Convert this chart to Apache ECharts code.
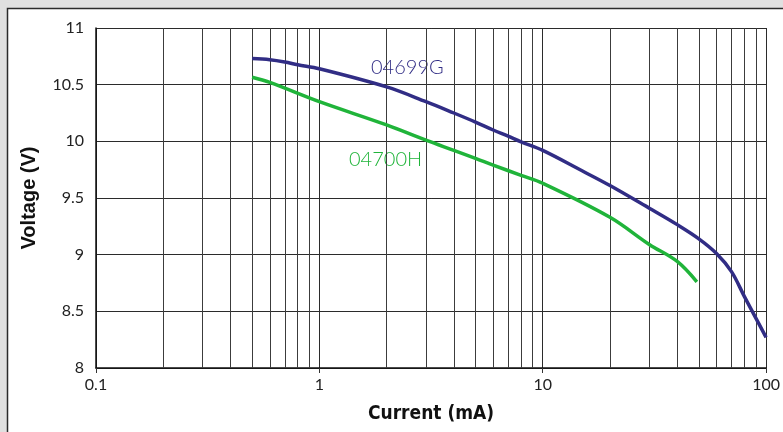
<!DOCTYPE html>
<html>
<head>
<meta charset="utf-8">
<script src="https://cdn.jsdelivr.net/npm/echarts@6/dist/echarts.min.js"></script>
<style>
  html, body { margin: 0; padding: 0; background: #e0e0e0; }
  #chart { width: 783px; height: 432px; }
</style>
</head>
<body>
<div id="chart"></div>
<script>
// ---- data ----
const current04699G = [0.5, 0.6, 0.7, 0.8, 1, 2, 3, 4, 5, 6, 7, 8, 10, 15, 20, 30, 40, 50, 60, 70, 80, 90, 100];
const voltage04699G = [10.73, 10.72, 10.70, 10.675, 10.64, 10.48, 10.35, 10.25, 10.17, 10.10, 10.045, 9.995, 9.92, 9.74, 9.61, 9.41, 9.265, 9.14, 9.01, 8.85, 8.63, 8.44, 8.27];

const current04700H = [0.5, 0.6, 1, 2, 3, 4, 5, 6, 8, 10, 20, 30, 40, 49];
const voltage04700H = [10.565, 10.52, 10.35, 10.145, 10.01, 9.92, 9.85, 9.79, 9.70, 9.63, 9.33, 9.09, 8.94, 8.76];

const seriesNames = ['04699G', '04700H'];
const xTickLabels = ['0.1', '1', '10', '100'];
const yTickLabels = ['8', '8.5', '9', '9.5', '10', '10.5', '11'];
const minorGridX = [0.2, 0.3, 0.4, 0.5, 0.6, 0.7, 0.8, 0.9, 2, 3, 4, 5, 6, 7, 8, 9, 20, 30, 40, 50, 60, 70, 80, 90];

const xTitle = 'Current (mA)';
const yTitle = 'Voltage (V)';

const blue = '#312d85';
const green = '#20b43a';
const gridColor = '#2b2b2b';

const chart = echarts.init(document.getElementById('chart'), null, { renderer: 'canvas' });

const pair = (xs, ys) => xs.map((x, i) => [x, ys[i]]);

const option = {
  backgroundColor: '#e0e0e0',
  animation: false,
  textStyle: { fontFamily: 'Lato' },
  graphic: [
    {
      type: 'rect', z: -10, silent: true,
      shape: { x: 7.5, y: 8.5, width: 800, height: 450 },
      style: { fill: '#ffffff', stroke: '#2a2a2a', lineWidth: 1.5 }
    },
    {
      type: 'text', left: 371, top: 58, silent: true,
      style: { text: seriesNames[0], fill: blue, font: '300 20px Lato' }
    },
    {
      type: 'text', left: 349, top: 150, silent: true,
      style: { text: seriesNames[1], fill: green, font: '300 20px Lato' }
    }
  ],
  grid: { left: 96, right: 15, top: 28, bottom: 64, containLabel: false },
  xAxis: {
    type: 'log',
    logBase: 10,
    min: 0.1,
    max: 100,
    name: xTitle,
    nameLocation: 'middle',
    nameGap: 37,
    nameTextStyle: { fontFamily: 'DejaVu Sans Condensed', fontWeight: 'bold', fontSize: 19, color: '#111' },
    axisLine: { show: true, lineStyle: { color: '#111', width: 1.5 } },
    axisTick: { show: true, length: 5, inside: false, lineStyle: { color: '#333', width: 1 } },
    axisLabel: {
      margin: 9, fontSize: 16, color: '#222', fontFamily: 'Lato',
      formatter: (v) => xTickLabels[Math.round(Math.log10(v) + 1)]
    },
    splitLine: { show: true, lineStyle: { color: gridColor, width: 1 } },
    minorTick: { show: false },
    minorSplitLine: { show: false }
  },
  yAxis: {
    type: 'value',
    min: 8,
    max: 11,
    interval: 0.5,
    name: yTitle,
    nameLocation: 'middle',
    nameRotate: 90,
    nameGap: 57,
    nameTextStyle: { fontFamily: 'Liberation Sans', fontWeight: 'bold', fontSize: 20, color: '#111' },
    axisLine: { show: true, lineStyle: { color: '#111', width: 1.5 } },
    axisTick: { show: false },
    axisLabel: {
      margin: 12, fontSize: 16, color: '#222', fontFamily: 'Lato',
      formatter: (v) => yTickLabels[Math.round((v - 8) * 2)]
    },
    splitLine: { show: true, lineStyle: { color: gridColor, width: 1 } }
  },
  series: [
    {
      name: seriesNames[1],
      type: 'line',
      z: 3,
      data: pair(current04700H, voltage04700H),
      smooth: 0.35,
      showSymbol: false,
      lineStyle: { color: green, width: 3.5, cap: 'butt' },
      itemStyle: { color: green },
      markLine: {
        z: 1,
        silent: true,
        animation: false,
        symbol: ['none', 'none'],
        label: { show: false },
        lineStyle: { type: 'solid', color: '#3c3c3c', width: 1 },
        emphasis: { disabled: true },
        data: minorGridX.map((v) => ({ xAxis: v }))
      }
    },
    {
      name: seriesNames[0],
      type: 'line',
      z: 4,
      data: pair(current04699G, voltage04699G),
      smooth: 0.35,
      showSymbol: false,
      lineStyle: { color: blue, width: 3.5, cap: 'butt' },
      itemStyle: { color: blue }
    }
  ]
};

chart.setOption(option);
</script>
</body>
</html>
